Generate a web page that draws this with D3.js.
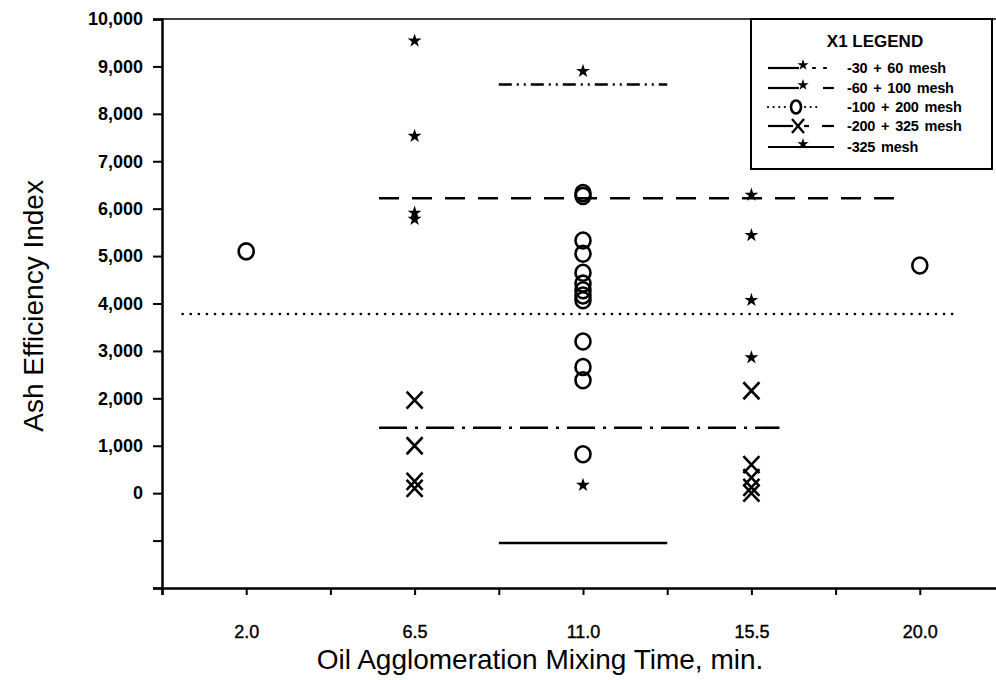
<!DOCTYPE html>
<html>
<head>
<meta charset="utf-8">
<script src="https://cdn.jsdelivr.net/npm/d3@7"></script>
<style>
  body { margin: 0; background: #fff; }
  text { font-family: "Liberation Sans", Arial, sans-serif; fill: #000; }
</style>
</head>
<body>
<div id="chart"></div>
<script>
// data
const xTickLabels = [2.0, 6.5, 11.0, 15.5, 20.0];
const yTickLabels = [0, 1000, 2000, 3000, 4000, 5000, 6000, 7000, 8000, 9000, 10000];

// -60 + 100 mesh (stars)
const starTimes  = [6.5, 6.5, 6.5, 6.5, 15.5, 15.5, 15.5, 15.5];
const starValues = [9540, 7530, 5910, 5780, 6290, 5440, 4070, 2860];
// -30 + 60 mesh (star)
const coarseTimes  = [11.0];
const coarseValues = [8900];
// -325 mesh (star)
const fineTimes  = [11.0];
const fineValues = [170];
// -100 + 200 mesh (circles)
const circleTimes  = [2.0, 11.0, 11.0, 11.0, 11.0, 11.0, 11.0, 11.0, 11.0, 11.0, 11.0, 11.0, 11.0, 11.0, 20.0];
const circleValues = [5100, 6270, 6330, 5330, 5050, 4650, 4420, 4280, 4170, 4070, 3200, 2660, 2380, 820, 4800];
// -200 + 325 mesh (crosses)
const crossTimes  = [6.5, 6.5, 6.5, 6.5, 15.5, 15.5, 15.5, 15.5, 15.5];
const crossValues = [1960, 1000, 250, 100, 2160, 600, 330, 120, 0];

// mean lines: level, start, end (minutes)
const meanNames  = ["-30 + 60 mesh", "-60 + 100 mesh", "-100 + 200 mesh", "-200 + 325 mesh", "-325 mesh"];
const meanLevels = [8620, 6220, 3780, 1380, -1050];
const meanStart  = [8.75, 5.55, 0.3, 5.55, 8.75];
const meanEnd    = [13.25, 19.6, 20.9, 16.25, 13.25];

const svgWidth = 996;
const svgHeight = 680;

const svg = d3.select("#chart")
  .append("svg")
  .attr("width", svgWidth)
  .attr("height", svgHeight);

const x = d3.scaleLinear().domain([-0.25, 22.25]).range([162, 1004]);
const y = d3.scaleLinear().domain([-2000, 10000]).range([588, 19]);

const dashes = ["13,5,2,5,2,5", "20,13", "0.1,8", "28,8,3,8", null];

// top frame line
svg.append("line")
  .attr("x1", x(-0.25)).attr("x2", svgWidth)
  .attr("y1", y(10000)).attr("y2", y(10000))
  .attr("stroke", "#000").attr("stroke-width", 1.5);

// y axis
const yTicks = d3.range(-2000, 10001, 1000);
const yAxis = d3.axisLeft(y)
  .tickValues(yTicks)
  .tickSize(9)
  .tickPadding(10)
  .tickFormat(d => yTickLabels.includes(d) ? d3.format(",")(d) : "");
const yG = svg.append("g")
  .attr("transform", `translate(${x(-0.25)},0)`)
  .call(yAxis);
yG.select(".domain").attr("stroke-width", 2.5);
yG.selectAll(".tick line").attr("stroke-width", 2);
yG.selectAll(".tick text")
  .attr("font-size", 18).attr("font-weight", "bold")
  .attr("font-family", "Liberation Sans, Arial, sans-serif");

// x axis
const xTicks = d3.range(-0.25, 22.26, 2.25);
const xAxis = d3.axisBottom(x)
  .tickValues(xTicks)
  .tickSize(7)
  .tickPadding(30)
  .tickFormat(d => {
    const hit = xTickLabels.find(v => Math.abs(v - d) < 1e-6);
    return hit === undefined ? "" : d3.format(".1f")(hit);
  });
const xG = svg.append("g")
  .attr("transform", `translate(0,${y(-2000)})`)
  .call(xAxis);
xG.select(".domain").attr("stroke-width", 2.5);
xG.selectAll(".tick line").attr("stroke-width", 2);
xG.selectAll(".tick text")
  .attr("font-size", 18)
  .attr("stroke", "#000").attr("stroke-width", 0.4)
  .attr("font-family", "Liberation Sans, Arial, sans-serif");

// axis titles
svg.append("text")
  .attr("transform", `translate(43, ${y(3950)}) rotate(-90)`)
  .attr("text-anchor", "middle")
  .attr("font-size", 28)
  .text("Ash Efficiency Index");

svg.append("text")
  .attr("x", 540).attr("y", 669)
  .attr("text-anchor", "middle")
  .attr("font-size", 28)
  .text("Oil Agglomeration Mixing Time, min.");

// mean lines
meanLevels.forEach((lv, i) => {
  svg.append("line")
    .attr("x1", x(meanStart[i])).attr("x2", x(meanEnd[i]))
    .attr("y1", y(lv)).attr("y2", y(lv))
    .attr("stroke", "#000")
    .attr("stroke-width", 2.6)
    .attr("stroke-linecap", i === 2 ? "round" : "butt")
    .attr("stroke-dasharray", dashes[i]);
});

// markers
const star = d3.symbol().type(d3.symbolStar).size(60);

function drawStars(times, values) {
  svg.append("g").selectAll("path")
    .data(times.map((t, i) => [t, values[i]]))
    .enter()
    .append("path")
    .attr("d", star)
    .attr("transform", d => `translate(${x(d[0])},${y(d[1])})`)
    .attr("fill", "#000");
}
drawStars(starTimes, starValues);
drawStars(coarseTimes, coarseValues);
drawStars(fineTimes, fineValues);

svg.append("g").selectAll("ellipse")
  .data(circleTimes.map((t, i) => [t, circleValues[i]]))
  .enter()
  .append("ellipse")
  .attr("cx", d => x(d[0]))
  .attr("cy", d => y(d[1]))
  .attr("rx", 7.5)
  .attr("ry", 8)
  .attr("fill", "none")
  .attr("stroke", "#000")
  .attr("stroke-width", 2.6);

const crossG = svg.append("g").selectAll("g")
  .data(crossTimes.map((t, i) => [t, crossValues[i]]))
  .enter()
  .append("g")
  .attr("transform", d => `translate(${x(d[0])},${y(d[1])})`);
crossG.append("path")
  .attr("d", "M-8,-8.5L8,8.5M8,-8.5L-8,8.5")
  .attr("stroke", "#000")
  .attr("stroke-width", 2.6)
  .attr("fill", "none");

// legend
const lg = svg.append("g");
lg.append("rect")
  .attr("x", 751).attr("y", 19)
  .attr("width", 241).attr("height", 150)
  .attr("fill", "#fff")
  .attr("stroke", "#000")
  .attr("stroke-width", 2);
lg.append("text")
  .attr("x", 875).attr("y", 47)
  .attr("text-anchor", "middle")
  .attr("font-size", 17).attr("font-weight", "bold")
  .text("X1 LEGEND");

const legendRowsY = [68, 88, 107, 126, 147];
const legendMarks = ["star", "star", "circle", "cross", "star"];
// line pieces of each legend sample: [x1, x2, dasharray]
const legendPieces = [
  [[768, 799, null], [813, 830, "2,9"]],
  [[768, 799, null], [823, 834, null]],
  [[768, 787, "0.1,5.5"], [805, 818, "0.1,5.5"]],
  [[768, 793, null], [804, 809, null], [822, 834, null]],
  [[768, 834, null]]
];

meanNames.forEach((name, i) => {
  const ry = legendRowsY[i];
  legendPieces[i].forEach(p => {
    lg.append("line")
      .attr("x1", p[0]).attr("x2", p[1])
      .attr("y1", ry).attr("y2", ry)
      .attr("stroke", "#000").attr("stroke-width", 2.2)
      .attr("stroke-linecap", p[2] ? "round" : "butt")
      .attr("stroke-dasharray", p[2]);
  });
  if (legendMarks[i] === "star") {
    lg.append("path").attr("d", d3.symbol().type(d3.symbolStar).size(40))
      .attr("transform", `translate(803,${ry - 3})`).attr("fill", "#000");
  } else if (legendMarks[i] === "circle") {
    lg.append("ellipse").attr("cx", 796).attr("cy", ry).attr("rx", 5).attr("ry", 6.5)
      .attr("fill", "#fff").attr("stroke", "#000").attr("stroke-width", 2.6);
  } else {
    const mx = 798;
    lg.append("path").attr("d", `M${mx - 6},${ry - 7}L${mx + 6},${ry + 7}M${mx + 6},${ry - 7}L${mx - 6},${ry + 7}`)
      .attr("stroke", "#000").attr("stroke-width", 2.4);
  }
  lg.append("text")
    .attr("x", 847).attr("y", ry + 5)
    .attr("font-size", 14.5).attr("font-weight", "bold")
    .attr("word-spacing", 2)
    .attr("letter-spacing", -0.2)
    .text(name);
});
</script>
</body>
</html>
